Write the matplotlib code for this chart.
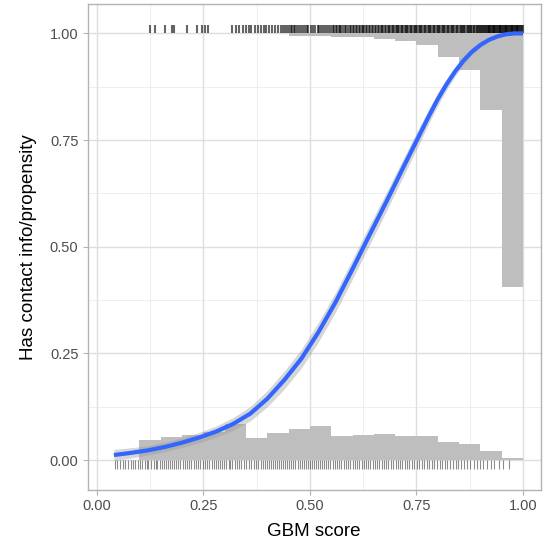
import matplotlib
matplotlib.use("Agg")
import matplotlib.pyplot as plt
import numpy as np

#Data
bin_left = [0.05, 0.10, 0.15, 0.20, 0.25, 0.30, 0.35, 0.40, 0.45, 0.50, 0.55, 0.60, 0.65, 0.70, 0.75, 0.80, 0.85, 0.90, 0.95]
#histogram of scores for class 0 (drawn up from 0)
hist_neg = [0.0, 0.047, 0.055, 0.060, 0.065, 0.084, 0.053, 0.063, 0.072, 0.080, 0.057, 0.060, 0.062, 0.057, 0.057, 0.043, 0.037, 0.022, 0.004]
#histogram of scores for class 1 (hanging down from 1)
hist_pos = [0.0, 0.0, 0.0, 0.0, 0.0, 0.0, 0.0, 0.0, 0.005, 0.005, 0.009, 0.009, 0.013, 0.018, 0.028, 0.055, 0.086, 0.179, 0.594]

#smoothed fit
fit_x = [0.04, 0.08, 0.12, 0.16, 0.20, 0.24, 0.28, 0.32, 0.36, 0.40, 0.44, 0.48, 0.52, 0.56, 0.60, 0.64, 0.68, 0.72, 0.76,
         0.78, 0.80, 0.82, 0.84, 0.86, 0.88, 0.90, 0.92, 0.94, 0.96, 0.98, 1.0]
fit_y = [0.012, 0.017, 0.023, 0.031, 0.041, 0.053, 0.067, 0.085, 0.109, 0.144, 0.188, 0.238, 0.300, 0.370, 0.448, 0.528,
         0.607, 0.688, 0.768, 0.808, 0.846, 0.880, 0.910, 0.936, 0.957, 0.973, 0.985, 0.993, 0.998, 1.0, 1.0]
fit_se = [0.013, 0.012, 0.011, 0.011, 0.011, 0.012, 0.013, 0.015, 0.017, 0.019, 0.021, 0.022, 0.023, 0.023, 0.023, 0.023,
          0.022, 0.021, 0.019, 0.017, 0.015, 0.013, 0.011, 0.009, 0.007, 0.005, 0.004, 0.003, 0.002, 0.001, 0.0]

#rug of scores, class 0
rug_neg = [0.042, 0.048, 0.055, 0.061, 0.066, 0.072, 0.079, 0.085, 0.090, 0.096, 0.101, 0.106, 0.112, 0.117, 0.121, 0.127,
           0.133, 0.138, 0.142, 0.148, 0.153, 0.157, 0.162, 0.166, 0.171, 0.176, 0.181, 0.186, 0.190, 0.196, 0.201, 0.206,
           0.211, 0.216, 0.221, 0.227, 0.232, 0.238, 0.243, 0.249, 0.254, 0.259, 0.264, 0.270, 0.275, 0.279, 0.284, 0.289,
           0.294, 0.299, 0.304, 0.309, 0.313, 0.318, 0.323, 0.329, 0.334, 0.339, 0.345, 0.351, 0.356, 0.362, 0.368, 0.373,
           0.378, 0.384, 0.389, 0.394, 0.399, 0.404, 0.409, 0.414, 0.419, 0.423, 0.428, 0.432, 0.437, 0.442, 0.447, 0.451,
           0.456, 0.461, 0.466, 0.471, 0.476, 0.481, 0.486, 0.491, 0.495, 0.499, 0.504, 0.509, 0.514, 0.519, 0.523, 0.528,
           0.533, 0.538, 0.543, 0.548, 0.553, 0.558, 0.563, 0.569, 0.574, 0.579, 0.584, 0.589, 0.595, 0.600, 0.605, 0.611,
           0.616, 0.621, 0.627, 0.632, 0.637, 0.642, 0.647, 0.653, 0.658, 0.663, 0.668, 0.674, 0.679, 0.684, 0.690, 0.695,
           0.701, 0.706, 0.711, 0.717, 0.722, 0.728, 0.733, 0.739, 0.745, 0.751, 0.757, 0.762, 0.768, 0.774, 0.780, 0.786,
           0.792, 0.798, 0.804, 0.810, 0.816, 0.822, 0.829, 0.835, 0.842, 0.848, 0.855, 0.862, 0.869, 0.876, 0.884, 0.891,
           0.899, 0.907, 0.915, 0.924, 0.933, 0.943, 0.954, 0.966]
#rug of scores, class 1
rug_pos = [0.125, 0.137, 0.160, 0.176, 0.180, 0.211, 0.234, 0.246, 0.254, 0.261,
           0.318, 0.326, 0.334, 0.342, 0.350, 0.356, 0.362, 0.371, 0.379, 0.384, 0.392, 0.398, 0.405, 0.411, 0.417, 0.424,
           0.431, 0.437, 0.441, 0.447, 0.452, 0.455, 0.458, 0.463, 0.466, 0.470, 0.474, 0.479, 0.483, 0.488, 0.492, 0.496,
           0.503, 0.508, 0.512, 0.518, 0.522, 0.527, 0.531, 0.536, 0.541, 0.545, 0.549, 0.553, 0.556, 0.560, 0.563, 0.567,
           0.571, 0.574, 0.578, 0.582, 0.585, 0.589, 0.593, 0.597, 0.601, 0.604, 0.607, 0.611, 0.614, 0.618, 0.621, 0.625,
           0.628, 0.631, 0.635, 0.638, 0.642, 0.645, 0.649, 0.652, 0.655, 0.659, 0.662, 0.666, 0.669, 0.672, 0.675, 0.679,
           0.682, 0.686, 0.689, 0.692, 0.695, 0.698, 0.701, 0.704, 0.707, 0.710, 0.713, 0.716, 0.719, 0.722, 0.725, 0.728,
           0.731, 0.734, 0.737, 0.740, 0.743, 0.746, 0.749, 0.752, 0.755, 0.758, 0.761, 0.764, 0.767, 0.770, 0.773, 0.776,
           0.779, 0.782, 0.785, 0.788, 0.791, 0.794, 0.797, 0.800, 0.803, 0.806, 0.809, 0.812, 0.815, 0.818, 0.821, 0.824,
           0.827, 0.830, 0.833, 0.836, 0.839, 0.842, 0.845, 0.848, 0.851, 0.854, 0.857, 0.860, 0.862, 0.865, 0.868, 0.870,
           0.873, 0.876, 0.878, 0.881, 0.884, 0.886, 0.889, 0.891, 0.894, 0.896, 0.899, 0.901, 0.903, 0.906, 0.908, 0.910,
           0.913, 0.915, 0.917, 0.919, 0.921, 0.923, 0.925, 0.927, 0.929, 0.931, 0.933, 0.935, 0.937, 0.939, 0.941, 0.943,
           0.945, 0.947, 0.949, 0.951, 0.953, 0.955, 0.957, 0.959, 0.961, 0.963, 0.965, 0.967, 0.969, 0.971, 0.973, 0.975,
           0.977, 0.979, 0.981, 0.983, 0.985, 0.987, 0.989, 0.991, 0.993, 0.995, 0.997, 0.999]

ticks = [0.0, 0.25, 0.5, 0.75, 1.0]
tick_labels = ["0.00", "0.25", "0.50", "0.75", "1.00"]

plt.rcParams['font.family'] = ['Liberation Sans', 'DejaVu Sans']

fig = plt.figure(figsize=(5.43, 5.46), dpi=100)
ax = fig.add_axes([87.5/543, 1 - 490/546, (540.5 - 87.5)/543, (490 - 4)/546])

#grid, theme_light look
for v in [0.125, 0.375, 0.625, 0.875]:
    ax.axvline(v, color='#ebebeb', lw=0.6, zorder=0)
    ax.axhline(v, color='#ebebeb', lw=0.6, zorder=0)
for v in ticks:
    ax.axvline(v, color='#dedede', lw=1.0, zorder=0)
    ax.axhline(v, color='#dedede', lw=1.0, zorder=0)

#histograms
ax.bar(bin_left, hist_neg, width=0.05, bottom=0, align='edge', color='#bebebe', lw=0, zorder=1)
ax.bar(bin_left, hist_pos, width=0.05, bottom=[1 - h for h in hist_pos], align='edge', color='#bebebe', lw=0, zorder=1)

#rugs
ax.vlines(rug_neg, -0.02, 0.0, color='black', alpha=0.45, lw=0.8, zorder=2)
ax.vlines(rug_pos, 1.0, 1.02, color='black', alpha=0.6, lw=1.5, zorder=2)

#smooth + ribbon
fx = np.array(fit_x)
fy = np.array(fit_y)
fse = np.array(fit_se)
ax.fill_between(fx, fy - fse, fy + fse, color='#999999', alpha=0.4, lw=0, zorder=3)
ax.plot(fx, fy, color='#3366FF', lw=3.0, solid_capstyle='butt', solid_joinstyle='round', zorder=4)

ax.set_xlim(-0.022, 1.041)
ax.set_ylim(-0.070, 1.069)
ax.set_xticks(ticks)
ax.set_xticklabels(tick_labels)
ax.set_yticks(ticks)
ax.set_yticklabels(tick_labels)
ax.tick_params(colors='#b3b3b3', length=3.5, width=0.8, labelcolor='#4d4d4d', labelsize=10.5, pad=3)

for s in ax.spines.values():
    s.set_color('#b3b3b3')
    s.set_linewidth(1.0)

ax.set_xlabel("GBM score", fontsize=13.5, color='black', labelpad=7)
ax.set_ylabel("Has contact info/propensity", fontsize=13.5, color='black', labelpad=9)

fig.savefig("out.png", dpi=100)
